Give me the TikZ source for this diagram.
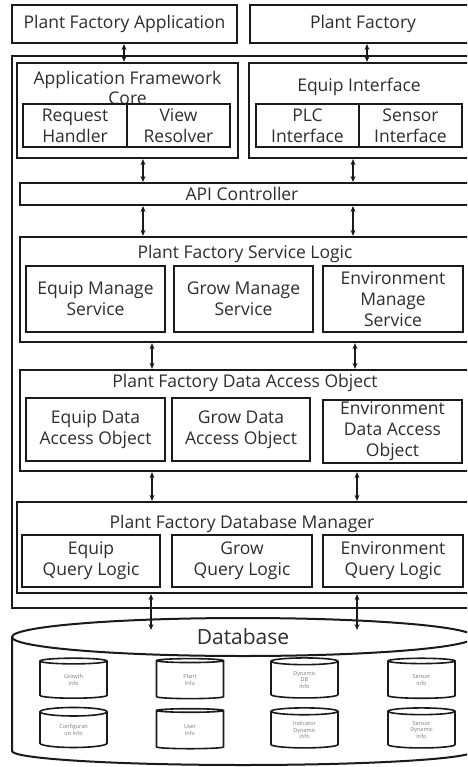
\documentclass[tikz,border=0pt]{standalone}
\usepackage{fontspec}
\setmainfont{Open Sans}
\usetikzlibrary{arrows.meta,shapes.geometric}
\definecolor{ink}{HTML}{1A1A1A}
\definecolor{txt}{HTML}{2E2E2E}
\definecolor{tiny}{HTML}{7A7A7A}
\begin{document}
\begin{tikzpicture}[x=1pt,y=-1pt,
  box/.style={draw=ink, line width=2pt, inner sep=0pt, align=center,
    font=\fontsize{17.5}{21}\selectfont, text=txt},
  frame/.style={draw=ink, line width=2.3pt, inner sep=0pt},
  ttl/.style={inner sep=0pt, align=center, font=\fontsize{17.5}{20}\selectfont, text=txt},
  arr/.style={{Stealth[length=6pt,width=5pt]}-{Stealth[length=6pt,width=5pt]}, line width=1.4pt, draw=ink},
  smallcyl/.style={cylinder, shape border rotate=90, aspect=0.3, draw=ink, line width=1.6pt,
    minimum width=67pt, minimum height=40pt, inner sep=0pt, align=center,
    font=\fontsize{5.5}{6.5}\selectfont, text=tiny}]
\useasboundingbox (0,0) rectangle (467,767);
\clip (0,0) rectangle (467,767);
\fill[white] (0,0) rectangle (467,767);

% top boxes
\node[box, minimum width=225pt, minimum height=38pt] (pfa) at (124.5,24) {Plant Factory Application};
\node[box, minimum width=226pt, minimum height=38pt] (pf) at (363,24) {Plant Factory};

% outer frame
\node[frame, minimum width=462pt, minimum height=552pt] (outer) at (243,332) {};

% application framework core
\node[frame, minimum width=221pt, minimum height=95pt] (afc) at (127.5,110.5) {};
\node[ttl] (afct) at (127.5,87.5) {Application Framework\\Core};
\node[box, fill=white, minimum width=104pt, minimum height=43pt] (rh) at (75,125.5) {Request\\Handler};
\node[box, fill=white, minimum width=103pt, minimum height=43pt] (vr) at (178.5,125.5) {View\\Resolver};

% equip interface
\node[frame, minimum width=221pt, minimum height=95pt] (ei) at (359.5,110.5) {};
\node[ttl] (eit) at (359,87) {Equip Interface};
\node[box, minimum width=103pt, minimum height=43pt] (plc) at (307.5,125.5) {PLC\\Interface};
\node[box, minimum width=103pt, minimum height=43pt] (sen) at (410.5,125.5) {Sensor\\Interface};

% API controller
\node[box, minimum width=450pt, minimum height=22pt] (api) at (245,194) {};
\node[ttl] (apit) at (242,194) {API Controller};

% service logic
\node[frame, minimum width=450pt, minimum height=105pt] (sl) at (245,289.5) {};
\node[ttl] (slt) at (245,254) {Plant Factory Service Logic};
\node[box, minimum width=139pt, minimum height=66pt] (s1) at (95.5,299) {Equip Manage\\Service};
\node[box, minimum width=139pt, minimum height=66pt] (s2) at (243.5,299) {Grow Manage\\Service};
\node[box, minimum width=140pt, minimum height=66pt] (s3) at (393,299) {Environment\\Manage\\Service};

% data access object
\node[frame, minimum width=450pt, minimum height=101pt] (dao) at (245,420.5) {};
\node[ttl] (daot) at (245,383) {Plant Factory Data Access Object};
\node[box, minimum width=139pt, minimum height=63pt] (d1) at (95.5,429.5) {Equip Data\\Access Object};
\node[box, minimum width=138pt, minimum height=63pt] (d2) at (241,429.5) {Grow Data\\Access Object};
\node[box, minimum width=139pt, minimum height=63pt] (d3) at (392.5,431) {Environment\\Data Access\\Object};

% database manager
\node[frame, minimum width=453pt, minimum height=91pt] (dbm) at (243.5,547.5) {};
\node[ttl] (dbmt) at (242,524) {Plant Factory Database Manager};
\node[box, minimum width=138pt, minimum height=52pt] (q1) at (91,561) {Equip\\Query Logic};
\node[box, minimum width=140pt, minimum height=52pt] (q2) at (242,561) {Grow\\Query Logic};
\node[box, minimum width=140pt, minimum height=52pt] (q3) at (393,561) {Environment\\Query Logic};

% database cylinder
\draw[ink, line width=2pt, fill=white] (12,637) -- (12,751) arc[start angle=180, end angle=0, x radius=231, y radius=14] -- (474,637);
\draw[ink, line width=2pt, fill=white] (243,637) ellipse[x radius=231, y radius=19];
\node[inner sep=0pt, font=\fontsize{21}{24}\selectfont, text=txt] (db) at (243,637) {Database};
\coordinate (dbA) at (151,630);
\coordinate (dbB) at (357,630);

% small cylinders
\node[smallcyl] (c1) at (73.5,680) {Growth\\Info};
\node[smallcyl] (c2) at (190,680) {Plant\\Info};
\node[smallcyl] (c3) at (304.5,680) {Dynamic\\DB\\Info};
\node[smallcyl] (c4) at (421.5,680) {Sensor\\Info};
\node[smallcyl] (c5) at (73.5,730) {Configurati\\on Info};
\node[smallcyl] (c6) at (190,730) {User\\Info};
\node[smallcyl] (c7) at (304.5,730) {Indicator\\Dynamic\\Info};
\node[smallcyl] (c8) at (421.5,730) {Sensor\\Dynamic\\Info};

% connector x positions
\coordinate (xa) at (124,0);
\coordinate (xb) at (367,0);
\coordinate (xc) at (143,0);
\coordinate (xd) at (353,0);
\coordinate (xe) at (152,0);
\coordinate (xf) at (355,0);
\coordinate (xg) at (357,0);

\draw[arr] (pfa.south -| xa) -- (afc.north -| xa);
\draw[arr] (pf.south -| xb) -- (ei.north -| xb);
\draw[arr] (afc.south -| xc) -- (api.north -| xc);
\draw[arr] (ei.south -| xd) -- (api.north -| xd);
\draw[arr] (api.south -| xc) -- (sl.north -| xc);
\draw[arr] (api.south -| xd) -- (sl.north -| xd);
\draw[arr] (sl.south -| xe) -- (dao.north -| xe);
\draw[arr] (sl.south -| xf) -- (dao.north -| xf);
\draw[arr] (dao.south -| xe) -- (dbm.north -| xe);
\draw[arr] (dao.south -| xg) -- (dbm.north -| xg);
\draw[arr] (dbm.south -| dbA) -- (dbA);
\draw[arr] (dbm.south -| dbB) -- (dbB);
\end{tikzpicture}
\end{document}
